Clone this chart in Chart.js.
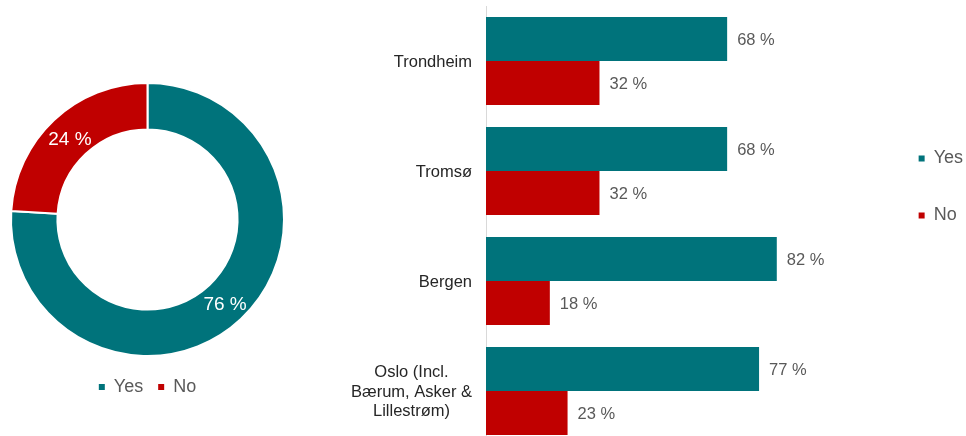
<!DOCTYPE html>
<html>
<head>
<meta charset="utf-8">
<script src="https://cdn.jsdelivr.net/npm/chart.js@4/dist/chart.umd.min.js"></script>
<style>
    html, body { margin: 0; padding: 0; background: #ffffff; overflow: hidden; }
    body { width: 966px; height: 436px; position: relative; }
    canvas { position: absolute; }
    #share { left: 0px; top: 0px; }
    #cities { left: 320px; top: 0px; }
</style>
</head>
<body>
<canvas id="share" width="295" height="406"></canvas>
<canvas id="cities" width="653" height="446"></canvas>
<script>
//overall answer split
var answerLabels = ['Yes', 'No'];
var answerTotals = [76, 24];

//answer split per city
var cityLabels = [
    'Trondheim',
    'Tromsø',
    'Bergen',
    ['Oslo (Incl.', 'Bærum, Asker &', 'Lillestrøm)']
];
var cityYes = [68, 68, 82, 77];
var cityNo  = [32, 32, 18, 23];

var TEAL = '#00737b';
var RED = '#c00000';
var GREY_TEXT = '#595959';
var DARK_TEXT = '#262626';

Chart.defaults.font.family = '"Liberation Sans", Arial, sans-serif';
Chart.defaults.animation = false;
Chart.defaults.plugins.tooltip.enabled = false;

//================================================================================
// Value labels ("76 %") drawn next to / inside each element
//================================================================================

var valueLabels = {
    id : 'valueLabels',
    afterDatasetsDraw : function (chart, args, opts) {
        var ctx = chart.ctx;
        ctx.save();
        ctx.font = opts.size + 'px ' + Chart.defaults.font.family;
        ctx.fillStyle = opts.color;
        ctx.textBaseline = 'middle';
        ctx.textAlign = opts.inside ? 'center' : 'left';
        chart.data.datasets.forEach(function (ds, d) {
            var meta = chart.getDatasetMeta(d);
            meta.data.forEach(function (el, i) {
                var text = ds.data[i] + ' %';
                if (opts.inside) {
                    var p = el.tooltipPosition();
                    ctx.fillText(text, p.x, p.y + opts.dy);
                } else {
                    ctx.fillText(text, el.x + opts.gap, el.y + opts.dy);
                }
            });
        });
        ctx.restore();
    }
};

//================================================================================
// City names: block right aligned at the axis, lines centred inside the block
//================================================================================

var cityTicks = {
    id : 'cityTicks',
    afterDraw : function (chart) {
        var ctx = chart.ctx;
        var yScale = chart.scales.y;
        var lineH = 19.5;
        ctx.save();
        ctx.font = '16.5px ' + Chart.defaults.font.family;
        ctx.fillStyle = DARK_TEXT;
        ctx.textBaseline = 'middle';
        ctx.textAlign = 'center';
        chart.data.labels.forEach(function (lbl, i) {
            var lines = [].concat(lbl);
            var widest = 0;
            for (var j = 0; j < lines.length; j++) {
                widest = Math.max(widest, ctx.measureText(lines[j]).width);
            }
            var cx = chart.chartArea.left - 14 - widest / 2;
            var y0 = yScale.getPixelForTick(i) + 1 - (lines.length - 1) * lineH / 2;
            for (var j = 0; j < lines.length; j++) {
                ctx.fillText(lines[j], cx, y0 + j * lineH);
            }
        });
        ctx.restore();
    }
};

//================================================================================
// Doughnut
//================================================================================

new Chart(document.getElementById('share'), {
    type : 'doughnut',
    data : {
        labels : answerLabels,
        datasets : [{
            data : answerTotals,
            backgroundColor : [TEAL, RED],
            borderColor : '#ffffff',
            borderWidth : 2
        }]
    },
    options : {
        responsive : false,
        radius : 136.5,
        cutout : '66%',
        layout : { padding : { top : 76 } },
        plugins : {
            legend : {
                position : 'bottom',
                labels : {
                    color : GREY_TEXT,
                    font : { size : 18 },
                    boxWidth : 6,
                    boxHeight : 6,
                    padding : 15,
                    generateLabels : function (chart) {
                        var items = Chart.overrides.doughnut.plugins.legend.labels.generateLabels(chart);
                        items.forEach(function (it) { it.lineWidth = 0; });
                        return items;
                    }
                }
            },
            valueLabels : { size : 19, color : '#ffffff', inside : true, dy : 2.5 }
        }
    },
    plugins : [valueLabels]
});

//================================================================================
// Horizontal bars per city
//================================================================================

new Chart(document.getElementById('cities'), {
    type : 'bar',
    data : {
        labels : cityLabels,
        datasets : [
            { label : 'Yes', data : cityYes, backgroundColor : TEAL },
            { label : 'No',  data : cityNo,  backgroundColor : RED }
        ]
    },
    options : {
        responsive : false,
        indexAxis : 'y',
        layout : { padding : { top : 6 } },
        datasets : {
            bar : { barPercentage : 1.0, categoryPercentage : 0.8 }
        },
        scales : {
            x : { display : false, min : 0, max : 111 },
            y : {
                grid : { display : false },
                border : { display : true, color : '#d9d9d9', width : 1 },
                ticks : { display : false },
                afterFit : function (scale) { scale.width = 166; }
            }
        },
        plugins : {
            legend : {
                position : 'right',
                align : 'start',
                title : { display : true, text : '', font : { size : 12 }, padding : { top : 90, bottom : 0 } },
                labels : {
                    color : GREY_TEXT,
                    font : { size : 18 },
                    boxWidth : 6,
                    boxHeight : 6,
                    padding : 39
                }
            },
            valueLabels : { size : 16.5, color : GREY_TEXT, inside : false, gap : 10, dy : 1.5 }
        }
    },
    plugins : [valueLabels, cityTicks]
});
</script>
</body>
</html>
